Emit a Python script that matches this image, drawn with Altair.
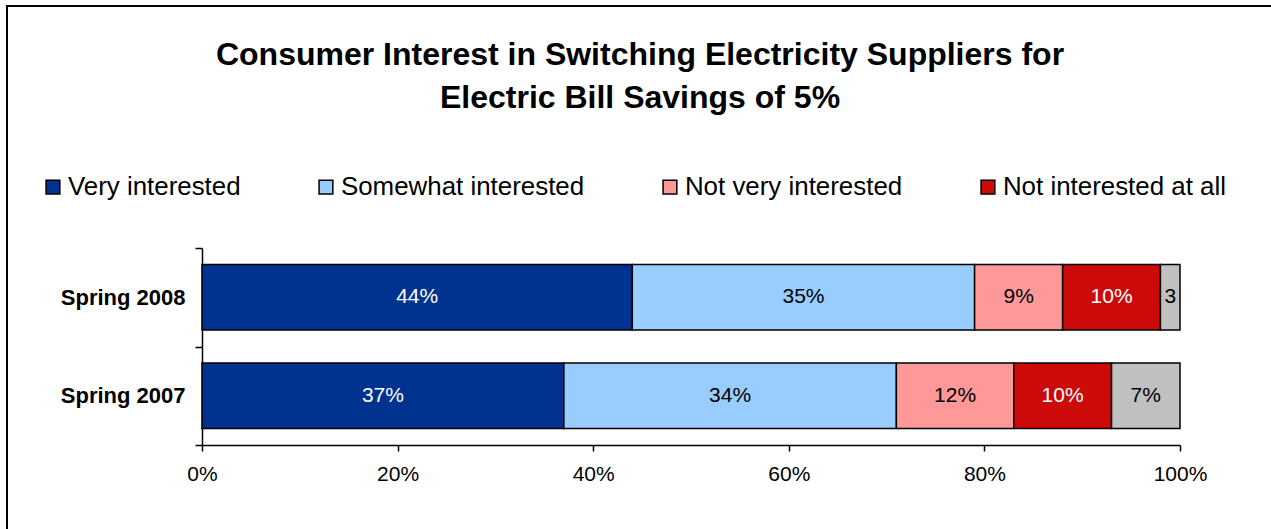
import altair as alt
import pandas as pd

periods = ["Spring 2008", "Spring 2007"]
categories = ["Very interested", "Somewhat interested", "Not very interested",
              "Not interested at all", "Don't know"]
legend_categories = categories[:4]
colors = ["#00338F", "#99CCFF", "#FF9999", "#CC0A0A", "#C0C0C0"]
values_2008 = [44, 35, 9, 10, 2]
values_2007 = [37, 34, 12, 10, 7]
labels_2008 = ["44%", "35%", "9%", "10%", "3"]
labels_2007 = ["37%", "34%", "12%", "10%", "7%"]
x_ticks = [0, 20, 40, 60, 80, 100]

rows = []
for p, vals, labs in [(periods[0], values_2008, labels_2008),
                      (periods[1], values_2007, labels_2007)]:
    for i, (c, v, l) in enumerate(zip(categories, vals, labs)):
        rows.append({"period": p, "category": c, "value": v, "label": l, "order": i})
df = pd.DataFrame(rows)

FONT = "Liberation Sans"

base = alt.Chart(df).transform_stack(
    stack="value", groupby=["period"], sort=[alt.SortField("order")], as_=["x0", "x1"]
).transform_calculate(mid="(datum.x0 + datum.x1) / 2")

y_enc = alt.Y("period:N", sort=periods,
              scale=alt.Scale(paddingInner=0, paddingOuter=0),
              axis=alt.Axis(title=None, labelFontWeight="bold", labelFontSize=22,
                            labelColor="black", labelFont=FONT, tickBand="extent",
                            tickSize=7, tickColor="black", domainColor="black",
                            domainWidth=1.5, tickWidth=1.5, labelPadding=10))

bars = base.mark_bar(stroke="black", strokeWidth=1.5, height={"band": 0.667}).encode(
    x=alt.X("x0:Q", scale=alt.Scale(domain=[0, 100], nice=False),
            axis=alt.Axis(title=None, values=x_ticks, labelExpr="datum.value + '%'",
                          grid=False, labelFontSize=21, labelColor="black",
                          labelFont=FONT, tickSize=6, tickColor="black",
                          domainColor="black", domainWidth=1.5, tickWidth=1.5,
                          labelPadding=12, labelFlush=False)),
    x2="x1:Q",
    y=y_enc,
    color=alt.Color("category:N", sort=categories,
                    scale=alt.Scale(domain=categories, range=colors),
                    legend=alt.Legend(title=None, values=legend_categories,
                                      orient="none", legendX=-162, legendY=-74,
                                      direction="horizontal", symbolType="square",
                                      symbolSize=190, symbolStrokeColor="black",
                                      symbolStrokeWidth=1.5, symbolOpacity=1,
                                      labelFontSize=25.9, labelFont=FONT,
                                      labelColor="black", labelOffset=2,
                                      columnPadding=72, labelLimit=400)),
    order=alt.Order("order:Q"),
)

texts = base.mark_text(fontSize=21, font=FONT).encode(
    x=alt.X("mid:Q"),
    y=alt.Y("period:N", sort=periods),
    text="label:N",
    color=alt.condition(
        alt.FieldOneOfPredicate(field="category",
                                oneOf=["Very interested", "Not interested at all"]),
        alt.value("white"), alt.value("black")),
)

frame = alt.Chart(pd.DataFrame({"a": [0]})).mark_rect(
    filled=False, stroke="black", strokeWidth=2
).encode(x=alt.value(-195), x2=alt.value(1300), y=alt.value(-242), y2=alt.value(400))

chart = alt.layer(frame, bars, texts).properties(
    width=978, height=197,
    title=alt.TitleParams(
        text=["Consumer Interest in Switching Electricity Suppliers for",
              "Electric Bill Savings of 5%"],
        fontSize=32, font=FONT, fontWeight="bold", color="black",
        anchor="middle", frame="group", dx=-51, lineHeight=43, offset=-110),
    padding={"left": 202, "top": 248, "right": 91, "bottom": 84},
    autosize=alt.AutoSizeParams(type="none"),
).configure(background="white", view=alt.ViewConfig(stroke=None))

chart.save("out.html", embed_options={"renderer": "svg", "actions": False})
